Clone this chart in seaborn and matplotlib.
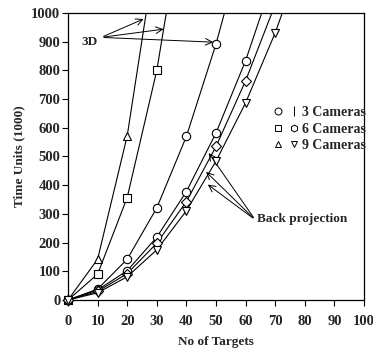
import matplotlib
matplotlib.use("Agg")
import matplotlib.pyplot as plt
import seaborn as sns
import numpy as np
import pandas as pd
from matplotlib.lines import Line2D
from matplotlib.legend_handler import HandlerTuple

sns.set_theme(style="white")
plt.rcParams['font.family'] = ['Liberation Serif', 'DejaVu Serif']
plt.rcParams['font.weight'] = 'bold'

# ---- data ----
targets_3d_3 = [0, 10, 20, 30, 40, 50, 60]
time_3d_3 = [0, 38, 142, 321, 570, 892, 1270]
targets_3d_6 = [0, 10, 20, 30, 40]
time_3d_6 = [0, 90, 357, 800, 1425]
targets_3d_9 = [0, 10, 20, 30]
time_3d_9 = [0, 142, 572, 1240]

targets_bp = [0, 10, 20, 30, 40, 50, 60, 70, 80]
time_bp_a = [0, 35, 102, 219, 378, 582, 834, 1140, 1480]
time_bp_b = [0, 30, 92, 198, 343, 535, 764, 1030, 1340]
time_bp_c = [0, 25, 81, 175, 311, 484, 687, 931, 1220]

legend_labels = ["3 Cameras", "6 Cameras", "9 Cameras"]
xticks = [0, 10, 20, 30, 40, 50, 60, 70, 80, 90, 100]
yticks = [0, 100, 200, 300, 400, 500, 600, 700, 800, 900, 1000]

fig = plt.figure(figsize=(3.73, 3.5), dpi=100)
ax = fig.add_axes([68/373, 50/350, (364-68)/373, (300-13)/350])

series = [
    (targets_3d_3, time_3d_3, 'o', 6),
    (targets_3d_6, time_3d_6, 's', 5.5),
    (targets_3d_9, time_3d_9, '^', 6),
    (targets_bp, time_bp_a, 'o', 6),
    (targets_bp, time_bp_b, 'D', 5),
    (targets_bp, time_bp_c, 'v', 6),
]
for xs, ys, mk, ms in series:
    sns.lineplot(x=xs, y=ys, ax=ax, color='black', lw=0.8, estimator=None, sort=False)
    xs_a = np.array(xs); ys_a = np.array(ys)
    keep = ys_a <= 1000
    ax.plot(xs_a[keep], ys_a[keep], linestyle='none', marker=mk, ms=ms,
            mfc='white', mec='black', mew=0.8, clip_on=False, zorder=5)

ax.set_xlim(0, 100)
ax.set_ylim(0, 1000)
ax.set_xticks(xticks)
ax.set_yticks(yticks)
ax.tick_params(axis='both', direction='out', length=4, width=0.8, color='black',
               labelsize=10.5, bottom=True, left=True)
ax.tick_params(axis='x', pad=6.5)
ax.tick_params(axis='y', pad=1.5)
for lab in ax.get_xticklabels() + ax.get_yticklabels():
    lab.set_fontweight('bold')
for sp in ax.spines.values():
    sp.set_color('black'); sp.set_linewidth(0.9)
ax.set_xlabel("No of Targets", fontsize=9.5, fontweight='bold', labelpad=6)
ax.set_ylabel("Time Units (1000)", fontsize=9.5, fontweight='bold', labelpad=4)

# annotations
ax.text(4.6, 900, "3D", fontsize=9.5, fontweight='bold', va='center', ha='left')
for tip in [(26.4, 983), (33.2, 945), (50, 898)]:
    ax.annotate("", xy=tip, xytext=(11.2, 915),
                arrowprops=dict(arrowstyle='->', color='black', lw=0.7))
ax.text(64, 282, "Back projection", fontsize=9.5, fontweight='bold', va='center', ha='left')
for tip in [(47, 520), (46, 453), (46.5, 408)]:
    ax.annotate("", xy=tip, xytext=(63.2, 280),
                arrowprops=dict(arrowstyle='->', color='black', lw=0.7))

def mh(m, ms):
    return Line2D([], [], linestyle='none', marker=m, ms=ms, mfc='white', mec='black', mew=0.7)

handles = [(mh('o', 5), mh('|', 7)), (mh('s', 5), mh('h', 5)), (mh('^', 5), mh('v', 5))]
leg = ax.legend(handles, legend_labels, handler_map={tuple: HandlerTuple(ndivide=None, pad=0.6)},
                loc='upper left', bbox_to_anchor=(0.68, 0.695), frameon=False,
                fontsize=10, handlelength=1.6, handletextpad=0.35, labelspacing=0.25,
                borderaxespad=0)
for t in leg.get_texts():
    t.set_fontweight('bold')

fig.savefig("out.png", dpi=100)
